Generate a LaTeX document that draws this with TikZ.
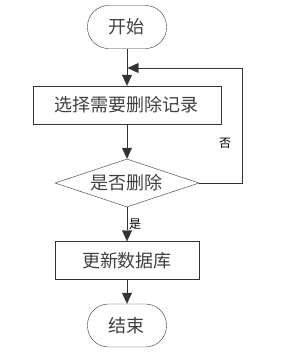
\documentclass[tikz,border=0pt]{standalone}
\usepackage{fontspec}
\newfontfamily\cjk{Noto Sans CJK SC}
\usepackage{tikz}
\usetikzlibrary{shapes.geometric, arrows.meta, positioning, calc}

\begin{document}
\begin{tikzpicture}[x=1pt, y=-1pt,
    every node/.style={font=\cjk\fontsize{18}{18}\selectfont, text=black!75},
    terminal/.style={draw=black!80, rounded corners=21pt, minimum width=79pt, minimum height=43pt},
    process/.style={draw=black!80, thin, minimum height=38pt},
    decision/.style={draw=black!80, diamond, aspect=3, inner sep=0pt, minimum width=144pt, minimum height=48pt},
    flow/.style={-{Triangle[width=10pt,length=11pt]}, draw=black!80}]
    \useasboundingbox (0, 0) rectangle (287, 360);
    \node[terminal] (start) at (127, 27) {开始};
    \node[process, minimum width=188pt] (select) at (127, 105) {选择需要删除记录};
    \node[decision] (check) at (127, 183) {是否删除};
    \node[process, minimum width=144pt] (update) at (127, 260.5) {更新数据库};
    \node[terminal] (stop) at (127, 325.5) {结束};
    \coordinate (loop) at (242, 68);
    \draw[flow] (start) -- (select);
    \draw[flow] (select) -- (check);
    \draw[flow] (check) -- node[right, font=\cjk\fontsize{12}{12}\selectfont, text=black, inner sep=2pt] {是} (update);
    \draw[flow] (update) -- (stop);
    \draw[flow] (check.east) -| (loop) -- (127.5, 68);
    \node[font=\cjk\fontsize{12}{12}\selectfont, text=black] (no) at (225, 143) {否};
\end{tikzpicture}
\end{document}
